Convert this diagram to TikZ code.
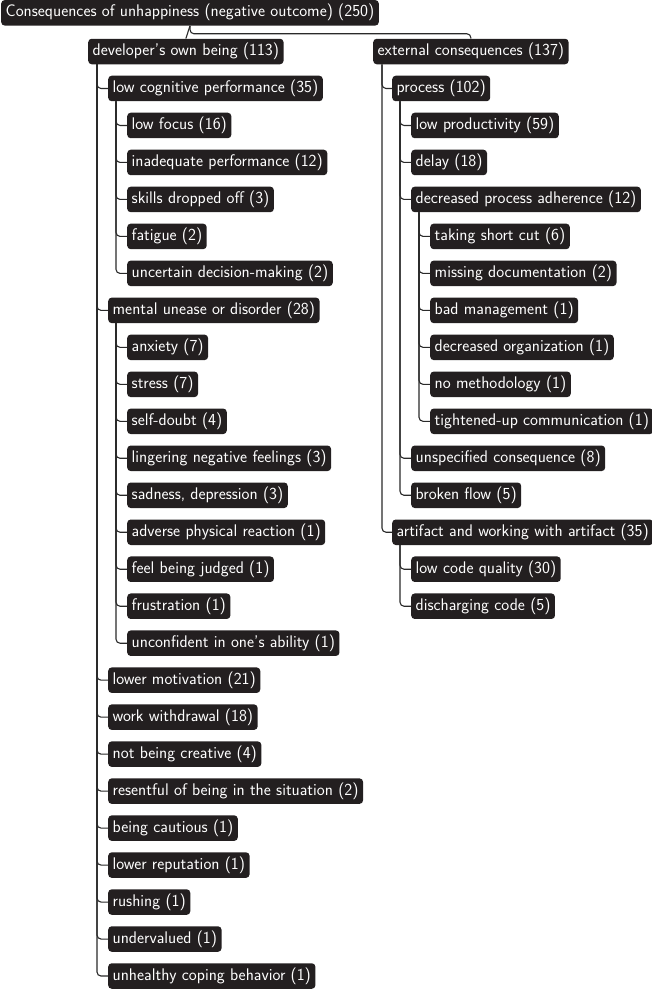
\documentclass[tikz,border=0pt]{standalone}
\usepackage{fontspec}
\usetikzlibrary{positioning}
\definecolor{boxgray}{HTML}{231F20}
\definecolor{linegray}{HTML}{2A2A2A}
\tikzset{
  cat/.style ={fill=boxgray,text=white,rounded corners=3.5bp,anchor=west,
               font=\sffamily\fontsize{16.9}{19}\selectfont,
               inner xsep=4.5bp,inner ysep=0pt,minimum height=25.5bp,
               text height=12bp,text depth=4bp},
  br/.style  ={draw=linegray,line width=1.1bp,rounded corners=4bp},
}

\begin{document}
\begin{tikzpicture}[x=1bp,y=-36.98bp]
\useasboundingbox (0,-0.3927) rectangle (651,26.378);
% root and first level
\node[cat,yshift=1.7bp] (root) at (1,0) {Consequences of unhappiness (negative outcome) (250)};
\node[cat] (dev) at (88,1) {developer's own being (113)};
\node[cat] (ext) at (373,1) {external consequences (137)};
\draw[br] (root.south)--(dev.north);
\draw[br] (root.south)--++(0,-8bp)-|(ext.north);
% developer's own being
\node[cat] (cog) at (108,2) {low cognitive performance (35)};
\node[cat] (ment) at (108,8) {mental unease or disorder (28)};
\draw[br] ([xshift=9bp]dev.south west)|-(cog.west);
\draw[br] ([xshift=9bp]dev.south west)|-(ment.west);
\foreach \t [count=\i from 3] in {low focus (16),inadequate performance (12),
    skills dropped off (3),fatigue (2),uncertain decision-making (2)}{
  \node[cat] (cog\i) at (127,\i) {\t};
  \draw[br] ([xshift=8bp]cog.south west)|-(cog\i.west);
}
\foreach \t [count=\i from 9] in {anxiety (7),stress (7),self-doubt (4),
    lingering negative feelings (3),{sadness, depression (3)},
    adverse physical reaction (1),feel being judged (1),frustration (1),
    unconfident in one's ability (1)}{
  \node[cat] (ment\i) at (127,\i) {\t};
  \draw[br] ([xshift=8bp]ment.south west)|-(ment\i.west);
}
\foreach \t [count=\i from 18] in {lower motivation (21),work withdrawal (18),
    not being creative (4),resentful of being in the situation (2),
    being cautious (1),lower reputation (1),rushing (1),undervalued (1),
    unhealthy coping behavior (1)}{
  \node[cat] (dev\i) at (108,\i) {\t};
  \draw[br] ([xshift=9bp]dev.south west)|-(dev\i.west);
}
% external consequences
\node[cat] (proc) at (392,2) {process (102)};
\node[cat] (art) at (392,14) {artifact and working with artifact (35)};
\draw[br] ([xshift=9bp]ext.south west)|-(proc.west);
\draw[br] ([xshift=9bp]ext.south west)|-(art.west);
\node[cat] (adh) at (411,5) {decreased process adherence (12)};
\draw[br] ([xshift=8bp]proc.south west)|-(adh.west);
\foreach \t [count=\i from 3] in {low productivity (59),delay (18)}{
  \node[cat] (proc\i) at (411,\i) {\t};
  \draw[br] ([xshift=8bp]proc.south west)|-(proc\i.west);
}
\foreach \t [count=\i from 12] in {unspecified consequence (8),broken flow (5)}{
  \node[cat] (proc\i) at (411,\i) {\t};
  \draw[br] ([xshift=8bp]proc.south west)|-(proc\i.west);
}
\foreach \t [count=\i from 6] in {taking short cut (6),missing documentation (2),
    bad management (1),decreased organization (1),no methodology (1),
    tightened-up communication (1)}{
  \node[cat] (adh\i) at (430,\i) {\t};
  \draw[br] ([xshift=8bp]adh.south west)|-(adh\i.west);
}
\foreach \t [count=\i from 15] in {low code quality (30),discharging code (5)}{
  \node[cat] (art\i) at (411,\i) {\t};
  \draw[br] ([xshift=8bp]art.south west)|-(art\i.west);
}
\end{tikzpicture}
\end{document}
